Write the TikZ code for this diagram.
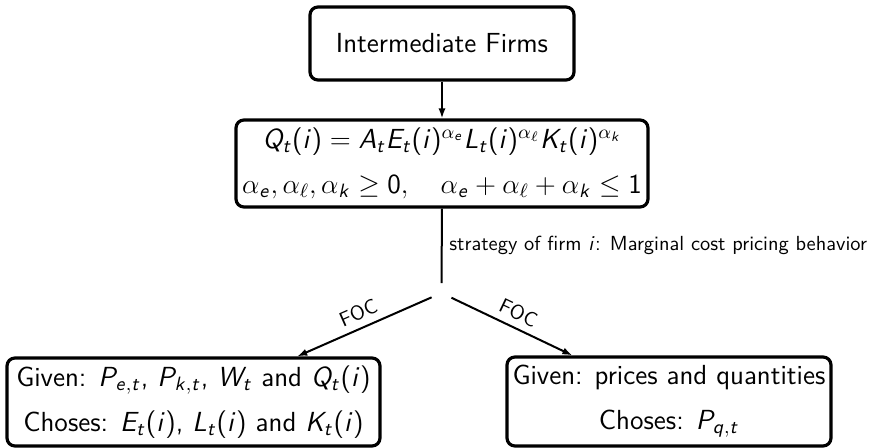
\RequirePackage{fix-cm}
\documentclass[tikz,border=0pt]{standalone}
\usetikzlibrary{arrows.meta}
% sans-serif italic letters and upright sans digits/operators in math
\DeclareSymbolFont{sfitalic}{OT1}{cmss}{m}{sl}
\SetSymbolFont{operators}{normal}{OT1}{cmss}{m}{n}
\newcommand\sfletter[1]{\DeclareMathSymbol{#1}{\mathalpha}{sfitalic}{`#1}}
\makeatletter
\@tfor\sfl@c:=ABCDEFGHIJKLMNOPQRSTUVWXYZabcdefghijklmnopqrstuvwxyz\do{\expandafter\sfletter\sfl@c}
\makeatother
\tikzset{
  box/.style={draw, line width=1.6pt, rounded corners=4pt, align=center,
    inner sep=0pt, font=\fontsize{13.8}{22.5}\selectfont\sffamily},
  link/.style={line width=1pt, -{Latex[length=5pt,width=3.6pt]}},
  lbl/.style={font=\fontsize{10.2}{12}\selectfont\sffamily},
  splitpt/.style={inner sep=0pt, minimum size=9.5pt}
}
\begin{document}
\begin{tikzpicture}[x=0.5pt,y=-0.5pt]
\useasboundingbox (0,0) rectangle (875,448);
\node[box, minimum width=132pt, minimum height=36.5pt] (firms) at (442,43.5) {Intermediate Firms};
\node[box, minimum width=206pt, minimum height=43.5pt] (prod) at (442,163.5)
  {$Q_t(i) = A_t E_t(i)^{\alpha_e} L_t(i)^{\alpha_\ell} K_t(i)^{\alpha_k}$\\
   $\alpha_e, \alpha_\ell, \alpha_k \geq 0, \quad \alpha_e + \alpha_\ell + \alpha_k \leq 1$};
\node[splitpt] (split) at (441.5,293) {};
\node[box, minimum width=186.5pt, minimum height=44pt] (choice) at (193.5,402)
  {Given: $P_{e,t}$, $P_{k,t}$, $W_t$ and $Q_t(i)$\\
   Choses: $E_t(i)$, $L_t(i)$ and $K_t(i)$};
\node[box, minimum width=162pt, minimum height=44.5pt] (price) at (669,401.5)
  {Given: prices and quantities\\
   Choses: $P_{q,t}$};
\draw[link] (firms) -- (prod);
\draw[line width=1pt] (prod.south) -- node[lbl, right] {strategy of firm $i$: Marginal cost pricing behavior} (split.north);
\draw[link] (split) -- node[lbl, sloped, above] {FOC} (choice);
\draw[link] (split) -- node[lbl, sloped, above] {FOC} (price);
\end{tikzpicture}
\end{document}
